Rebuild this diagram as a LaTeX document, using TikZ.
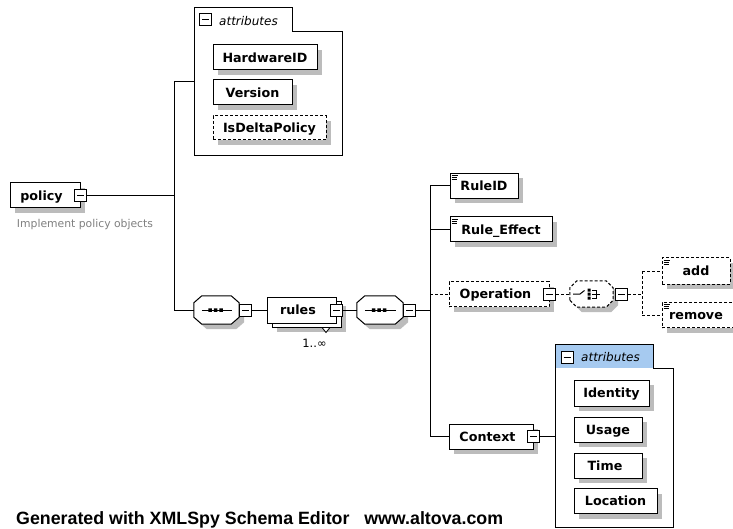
\documentclass[tikz,border=0pt]{standalone}
\usepackage{fontspec}
\setmainfont{DejaVu Sans}
\newfontfamily\footfont{Liberation Sans}
\usetikzlibrary{calc}

\definecolor{dropgrey}{RGB}{188,188,188}
\definecolor{notegray}{RGB}{128,128,128}
\definecolor{tabblue}{RGB}{166,202,240}

\newcommand\elfont{\fontsize{12.7}{14}\selectfont\bfseries}
\newcommand\attfont{\fontsize{12}{14}\selectfont\itshape}

% octagonal compositor outline around a (borderless) node, with its shadow
% #2 = node, #3/#4 = corner cut, optional #1 = extra options
\newcommand\drawocto[4][]{%
  \fill[fill=dropgrey]
    ([xshift=5pt,yshift=#4-5pt]#2.south west) -- ([xshift=5pt,yshift=-#4-5pt]#2.north west) --
    ([xshift=#3+5pt,yshift=-5pt]#2.north west) -- ([xshift=-#3+5pt,yshift=-5pt]#2.north east) --
    ([xshift=5pt,yshift=-#4-5pt]#2.north east) -- ([xshift=5pt,yshift=#4-5pt]#2.south east) --
    ([xshift=-#3+5pt,yshift=-5pt]#2.south east) -- ([xshift=#3+5pt,yshift=-5pt]#2.south west) -- cycle;
  \filldraw[fill=white, line width=1pt, #1]
    ([yshift=#4]#2.south west) -- ([yshift=-#4]#2.north west) --
    ([xshift=#3]#2.north west) -- ([xshift=-#3]#2.north east) --
    ([yshift=-#4]#2.north east) -- ([yshift=#4]#2.south east) --
    ([xshift=-#3]#2.south east) -- ([xshift=#3]#2.south west) -- cycle;}

% small "simple content" marker in the top left corner of an element
\newcommand\simplemark[1]{%
  \draw[line width=0.8pt, shift={(#1.north west)}]
    (2,2.7) -- (8,2.7) (2,4.7) -- (7,4.7) (2,6.7) -- (7,6.7);}

% element box: grey shadow first, then the white box on top
% #1 options, #2 name, #3 centre, #4 width, #5 height, #6 text
\newcommand\elem[6][]{%
  \fill[fill=dropgrey] ($(#3)+(5-#4/2,5-#5/2)$) rectangle ($(#3)+(5+#4/2,5+#5/2)$);
  \node[elbox, minimum width=#4pt, minimum height=#5pt, #1] (#2) at (#3) {#6};}

\tikzset{
  x=1pt, y=-1pt,
  elbox/.style={draw, fill=white, line width=1pt, rectangle, inner sep=0pt,
      minimum height=25pt, font=\elfont, text height=9.3pt, text depth=0pt},
  dashline/.style={dash pattern=on 3pt off 2pt},
  conn/.style={line width=1pt},
  optconn/.style={conn, dashline},
  minus/.style={draw, fill=white, line width=1pt, minimum size=12pt,
      inner sep=0pt, path picture={\draw[line width=1pt]
        ([xshift=2.5pt]path picture bounding box.west) --
        ([xshift=-2.5pt]path picture bounding box.east);}},
  comp/.style={inner sep=0pt, minimum height=28pt},
  tabtext/.style={font=\attfont, anchor=base west, inner sep=0pt},
}

\begin{document}
\begin{tikzpicture}
\fill[white] (0,0) rectangle (733,529);
\useasboundingbox (0,0) rectangle (733,529);

% ---------- attribute group of policy ----------
\draw[line width=1pt] (194,156) -- (194,8) -- (292,8) -- (292,32)
  -- (342,32) -- (342,156) -- cycle;
\node[minus] (attAmin) at (205.5,20) {};
\node[tabtext] (attAtxt) at (219,26) {attributes};
\coordinate (attA) at (194,82);

\elem{hw}{265,57.5}{104}{25}{HardwareID}
\elem{ver}{252.5,92.5}{79}{25}{Version}
\elem[dashline]{delta}{269.5,128}{113}{24}{IsDeltaPolicy}

% ---------- root element ----------
\elem{policy}{45,195.5}{70}{25}{\hspace*{-7pt}policy}
\node[minus] (pmin) at (policy.east) {};
\node[font=\fontsize{10.8}{12}\selectfont, text=notegray, anchor=base,
  inner sep=0pt] (note) at (85,227.5) {Implement policy objects};

% ---------- first sequence ----------
\node[comp, minimum width=45pt] (seq1) at (216.5,310) {};
\drawocto{seq1}{8pt}{7pt}
\draw[conn] ([xshift=8pt]seq1.west) -- ([xshift=-7pt]seq1.east);
\fill[shift={(seq1.center)}] (-8.25,-1.75) rectangle ++(3.5,3.5)
  (-2.75,-1.75) rectangle ++(3.5,3.5) (2.75,-1.75) rectangle ++(3.5,3.5);
\node[minus] (seq1min) at ([xshift=6.5pt]seq1.east) {};

% ---------- rules (repeated element) ----------
\elem{rulesB}{306.5,314}{69}{26}{}
\node[elbox, minimum width=69pt, minimum height=26pt] (rules) at (301.5,310) {\hspace*{-7pt}rules};
\node[minus] (rulesmin) at (rules.east) {};
\filldraw[fill=white, line width=0.8pt, shift={(rulesB.south)}]
  (15.5,0) -- (23.5,0) -- (19.5,5) -- cycle;
\node[font=\fontsize{11.5}{13}\selectfont, anchor=base, inner sep=0pt]
  (mult) at (314.5,347) {1..∞};

% ---------- second sequence ----------
\node[comp, minimum width=46pt] (seq2) at (380,310) {};
\drawocto{seq2}{8pt}{7pt}
\draw[conn] ([xshift=8pt]seq2.west) -- ([xshift=-7pt]seq2.east);
\fill[shift={(seq2.center)}] (-8.25,-1.75) rectangle ++(3.5,3.5)
  (-2.75,-1.75) rectangle ++(3.5,3.5) (2.75,-1.75) rectangle ++(3.5,3.5);
\node[minus] (seq2min) at ([xshift=6.5pt]seq2.east) {};
\coordinate (tB) at (430,310);

% ---------- children of the sequence ----------
\elem{ruleid}{484,186}{68}{25}{RuleID}
\simplemark{ruleid}
\elem{effect}{501,229.5}{102}{25}{Rule\_Effect}
\simplemark{effect}
\elem[dashline]{oper}{499,294}{100}{25}{\hspace*{-7pt}Operation}
\node[minus] (opermin) at (oper.east) {};

% choice compositor
\node[comp, minimum width=43pt, minimum height=26pt] (choice) at (591.5,294) {};
\drawocto[dashline]{choice}{7pt}{7pt}
\begin{scope}[shift={(choice.center)}]
  \draw[line width=1pt] (-18.5,0) -- (-11.5,0) -- (-7,-3.5);
  \fill (-4,-5.5) rectangle ++(3,3) (-4,-1.5) rectangle ++(3,3) (-4,2.5) rectangle ++(3,3);
  \draw[line width=1pt] (0.5,-4) -- (4.5,-4) -- (4.5,4) -- (0.5,4)
    (0.5,0) -- (8,0);
\end{scope}
\node[minus] (choicemin) at (621.5,294) {};
\coordinate (tC) at (642,294);

\elem[dashline]{add}{696,271}{68}{26}{add}
\simplemark{add}
\elem[dashline]{remove}{702,315}{80}{25}{\hspace*{-12pt}remove}
\simplemark{remove}

\elem{ctx}{491,436.5}{84}{25}{\hspace*{-7pt}Context}
\node[minus] (ctxmin) at (ctx.east) {};

% ---------- attribute group of Context ----------
\fill[tabblue] (555,344) rectangle (653,368);
\draw[line width=1pt] (555,527.5) -- (555,344) -- (653,344) -- (653,368)
  -- (673,368) -- (673,527.5) -- cycle;
\node[minus] (attBmin) at (567,357) {};
\node[tabtext] (attBtxt) at (581,361.5) {attributes};
\coordinate (attB) at (555,436.5);

\elem{ident}{611.5,393}{75}{26}{Identity}
\elem{usage}{608,429.5}{68}{25}{Usage}
\elem{time}{608,465.5}{68}{25}{\hspace*{-6pt}Time}
\elem{loc}{615.5,501}{83}{25}{Location}

% ---------- connectors ----------
\coordinate (tA) at (174,196);
\draw[conn] (pmin.east) -- (pmin.east -| tA);
\draw[conn] (attA -| tA) -- (seq1.west -| tA);
\draw[conn] (attA -| tA) -- (attA);
\draw[conn] (seq1.west -| tA) -- (seq1.west);
\draw[conn] (seq1min.east) -- (rules.west |- seq1min.east);
\draw[conn] (rulesmin.east |- seq2.west) -- (seq2.west);
\draw[conn] (seq2min.east) -- (tB);
\draw[conn] (ruleid.west -| tB) -- (ctx.west -| tB);
\draw[conn] (ruleid.west -| tB) -- (ruleid.west);
\draw[conn] (effect.west -| tB) -- (effect.west);
\draw[conn] (ctx.west -| tB) -- (ctx.west);
\draw[optconn] (oper.west -| tB) -- (oper.west);
\draw[optconn] (opermin.east) -- (choice.west);
\draw[optconn] (choicemin.east) -- (tC);
\draw[optconn] (add.west -| tC) -- (remove.west -| tC);
\draw[optconn] (add.west -| tC) -- (add.west);
\draw[optconn] (remove.west -| tC) -- (remove.west);
\draw[conn] (ctxmin.east) -- (attB);

% ---------- footer ----------
\node[font=\footfont\fontsize{17.8}{20}\selectfont\bfseries, anchor=base west,
  inner sep=0pt] (footer) at (16,524) {Generated with XMLSpy Schema Editor\hspace{0.55em} www.altova.com};
\end{tikzpicture}
\end{document}
